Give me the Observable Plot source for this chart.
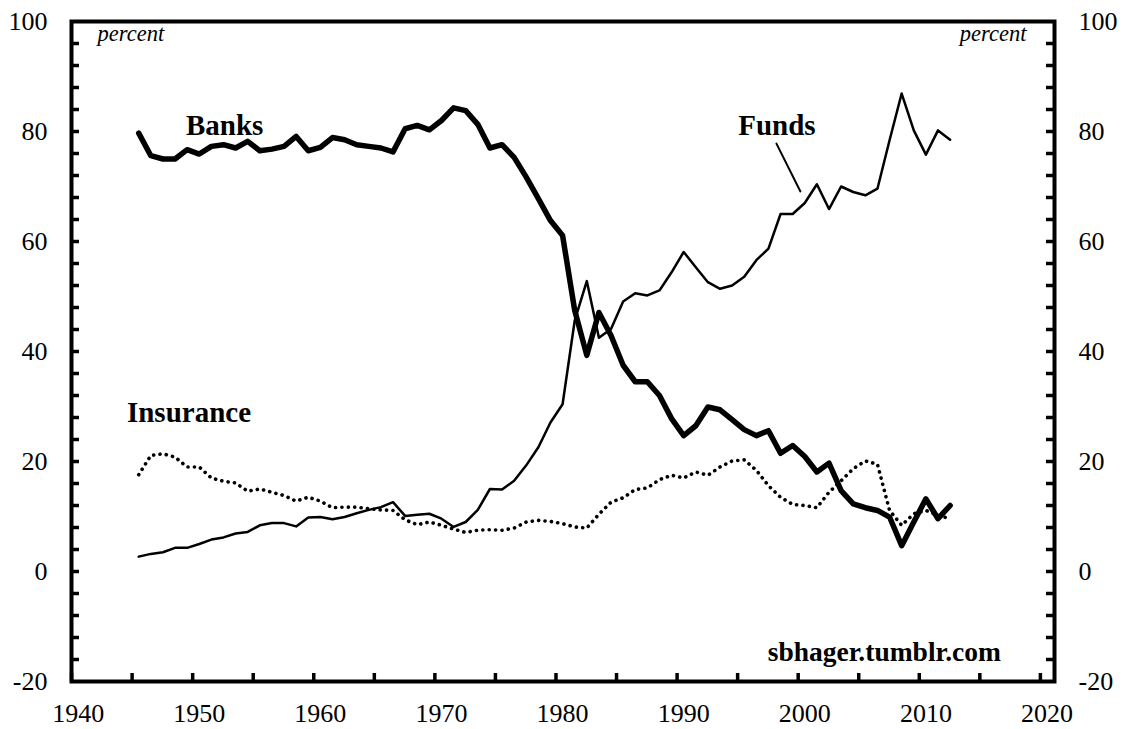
<!DOCTYPE html>
<html><head><meta charset="utf-8">
<script src="https://cdn.jsdelivr.net/npm/d3@7"></script>
<script src="https://cdn.jsdelivr.net/npm/@observablehq/plot@0.6"></script>
<style>html,body{margin:0;padding:0;background:#fff} svg{display:block}</style>
</head><body><div id="chart"></div>
<script>
const years = [1945,1946,1947,1948,1949,1950,1951,1952,1953,1954,1955,1956,1957,1958,1959,1960,1961,1962,1963,1964,1965,1966,1967,1968,1969,1970,1971,1972,1973,1974,1975,1976,1977,1978,1979,1980,1981,1982,1983,1984,1985,1986,1987,1988,1989,1990,1991,1992,1993,1994,1995,1996,1997,1998,1999,2000,2001,2002,2003,2004,2005,2006,2007,2008,2009,2010,2011,2012];
const banks = [79.7,75.6,75.0,75.0,76.7,75.9,77.3,77.6,77.0,78.2,76.5,76.8,77.3,79.1,76.5,77.1,78.9,78.5,77.6,77.3,77.0,76.3,80.5,81.1,80.3,82.0,84.3,83.8,81.3,77.0,77.6,75.3,71.7,67.8,63.8,61.1,47.5,39.3,47.1,42.9,37.5,34.5,34.5,32.0,27.8,24.7,26.5,29.9,29.4,27.6,25.8,24.7,25.6,21.5,22.9,20.9,18.1,19.7,14.7,12.3,11.6,11.1,9.9,4.7,9.0,13.2,9.6,12.0];
const funds = [2.7,3.2,3.5,4.3,4.3,5.0,5.8,6.2,6.9,7.2,8.4,8.8,8.8,8.2,9.8,9.9,9.5,9.9,10.6,11.2,11.7,12.6,10.1,10.3,10.5,9.6,8.1,9.0,11.2,15.0,14.9,16.5,19.3,22.6,27.1,30.4,45.6,52.8,42.5,44.1,49.1,50.6,50.2,51.1,54.4,58.1,55.3,52.6,51.4,52.0,53.6,56.6,58.7,65.0,65.0,67.0,70.4,65.9,70.0,69.0,68.4,69.6,78.4,86.9,80.2,75.8,80.2,78.5];
const insurance = [17.6,21.1,21.4,20.8,19.0,19.0,17.0,16.4,16.1,14.6,15.0,14.4,13.8,12.8,13.5,12.8,11.6,11.7,11.7,11.4,11.2,11.1,9.4,8.5,9.0,8.4,7.7,7.1,7.5,7.6,7.5,7.9,9.0,9.3,9.1,8.7,8.1,7.9,10.4,12.6,13.4,14.9,15.2,16.7,17.5,17.0,18.1,17.5,19.0,20.1,20.3,18.4,15.6,13.5,12.2,12.0,11.6,14.4,16.5,18.7,20.1,19.5,11.1,8.4,10.5,11.1,10.2,9.6];

const xLabelTicks = [1940,1950,1960,1970,1980,1990,2000,2010,2020];
const xMinorTicks = [1940,1945,1950,1955,1960,1965,1970,1975,1980,1985,1990,1995,2000,2005,2010,2015,2020];
const yLabelTicks = [-20,0,20,40,60,80,100];
const yMinorTicks = [-16,-12,-8,-4,0,4,8,12,16,20,24,28,32,36,40,44,48,52,56,60,64,68,72,76,80,84,88,92,96];

const seriesLabels = [
  {text: "Banks", year: 1952.1, value: 79.45},
  {text: "Funds", year: 1997.7, value: 79.45},
  {text: "Insurance", year: 1949.15, value: 27.15}
];
const fundsLeader = [{year: 1997.66, value: 77.8}, {year: 1999.64, value: 69.1}];
const unitLabelLeft = [{text: "percent", year: 1941.6, value: 96.5}];
const unitLabelRight = [{text: "percent", year: 2018.3, value: 96.5}];
const sourceLabel = [{text: "sbhager.tumblr.com", year: 2016.2, value: -16.2}];

const rows = years.map((y, i) => ({year: y, banks: banks[i], funds: funds[i], insurance: insurance[i]}));

const W = 1125, H = 729;
const mL = 71, mR = 71, mT = 21, mB = 48;
const fw = W - mL - mR, fh = H - mT - mB;
const font = '"Liberation Serif", "Times New Roman", Times, serif';

const chart = Plot.plot({
  width: W, height: H,
  marginLeft: mL, marginRight: mR, marginTop: mT, marginBottom: mB,
  x: {domain: [1939.45, 2020.62]},
  y: {domain: [-20, 100]},
  style: {fontFamily: font, background: "#fff", color: "#000", overflow: "visible"},
  marks: [
    Plot.axisX({ticks: xLabelTicks, tickSize: 0, tickPadding: 22, fontSize: 26, tickFormat: d => String(d), label: null}),
    Plot.axisY({anchor: "left", ticks: yLabelTicks, tickSize: 0, tickPadding: 24, fontSize: 26, tickFormat: d => String(d), label: null}),
    Plot.axisY({anchor: "right", ticks: yLabelTicks, tickSize: 0, tickPadding: 24, fontSize: 26, tickFormat: d => String(d), label: null}),
    Plot.tickY(yMinorTicks, {y: d => d, insetRight: fw - 8, strokeWidth: 3.5, stroke: "#000"}),
    Plot.tickY(yMinorTicks, {y: d => d, insetLeft: fw - 8, strokeWidth: 3.5, stroke: "#000"}),
    Plot.tickX(xMinorTicks, {x: d => d, insetTop: fh - 8, strokeWidth: 3.5, stroke: "#000", dx: -6.6}),
    Plot.line(rows, {x: "year", y: "insurance", stroke: "#000", strokeWidth: 3.6, strokeDasharray: "0.1 6.3", strokeLinecap: "round"}),
    Plot.line(rows, {x: "year", y: "funds", stroke: "#000", strokeWidth: 2.5, strokeLinejoin: "round"}),
    Plot.line(rows, {x: "year", y: "banks", stroke: "#000", strokeWidth: 5.5, strokeLinejoin: "round"}),
    Plot.line(fundsLeader, {x: "year", y: "value", stroke: "#000", strokeWidth: 2}),
    Plot.text(seriesLabels, {x: "year", y: "value", text: "text", fontSize: 29, fontWeight: "bold", lineAnchor: "bottom", fill: "#000"}),
    Plot.text(unitLabelLeft, {x: "year", y: "value", text: "text", fontSize: 22.5, fontStyle: "italic", lineAnchor: "bottom", textAnchor: "start", fill: "#000"}),
    Plot.text(unitLabelRight, {x: "year", y: "value", text: "text", fontSize: 22.5, fontStyle: "italic", lineAnchor: "bottom", textAnchor: "end", fill: "#000"}),
    Plot.text(sourceLabel, {x: "year", y: "value", text: "text", fontSize: 27.5, fontWeight: "bold", lineAnchor: "bottom", textAnchor: "end", fill: "#000"}),
    Plot.frame({stroke: "#000", strokeWidth: 4})
  ]
});
document.getElementById("chart").appendChild(chart);
</script>
</body></html>
